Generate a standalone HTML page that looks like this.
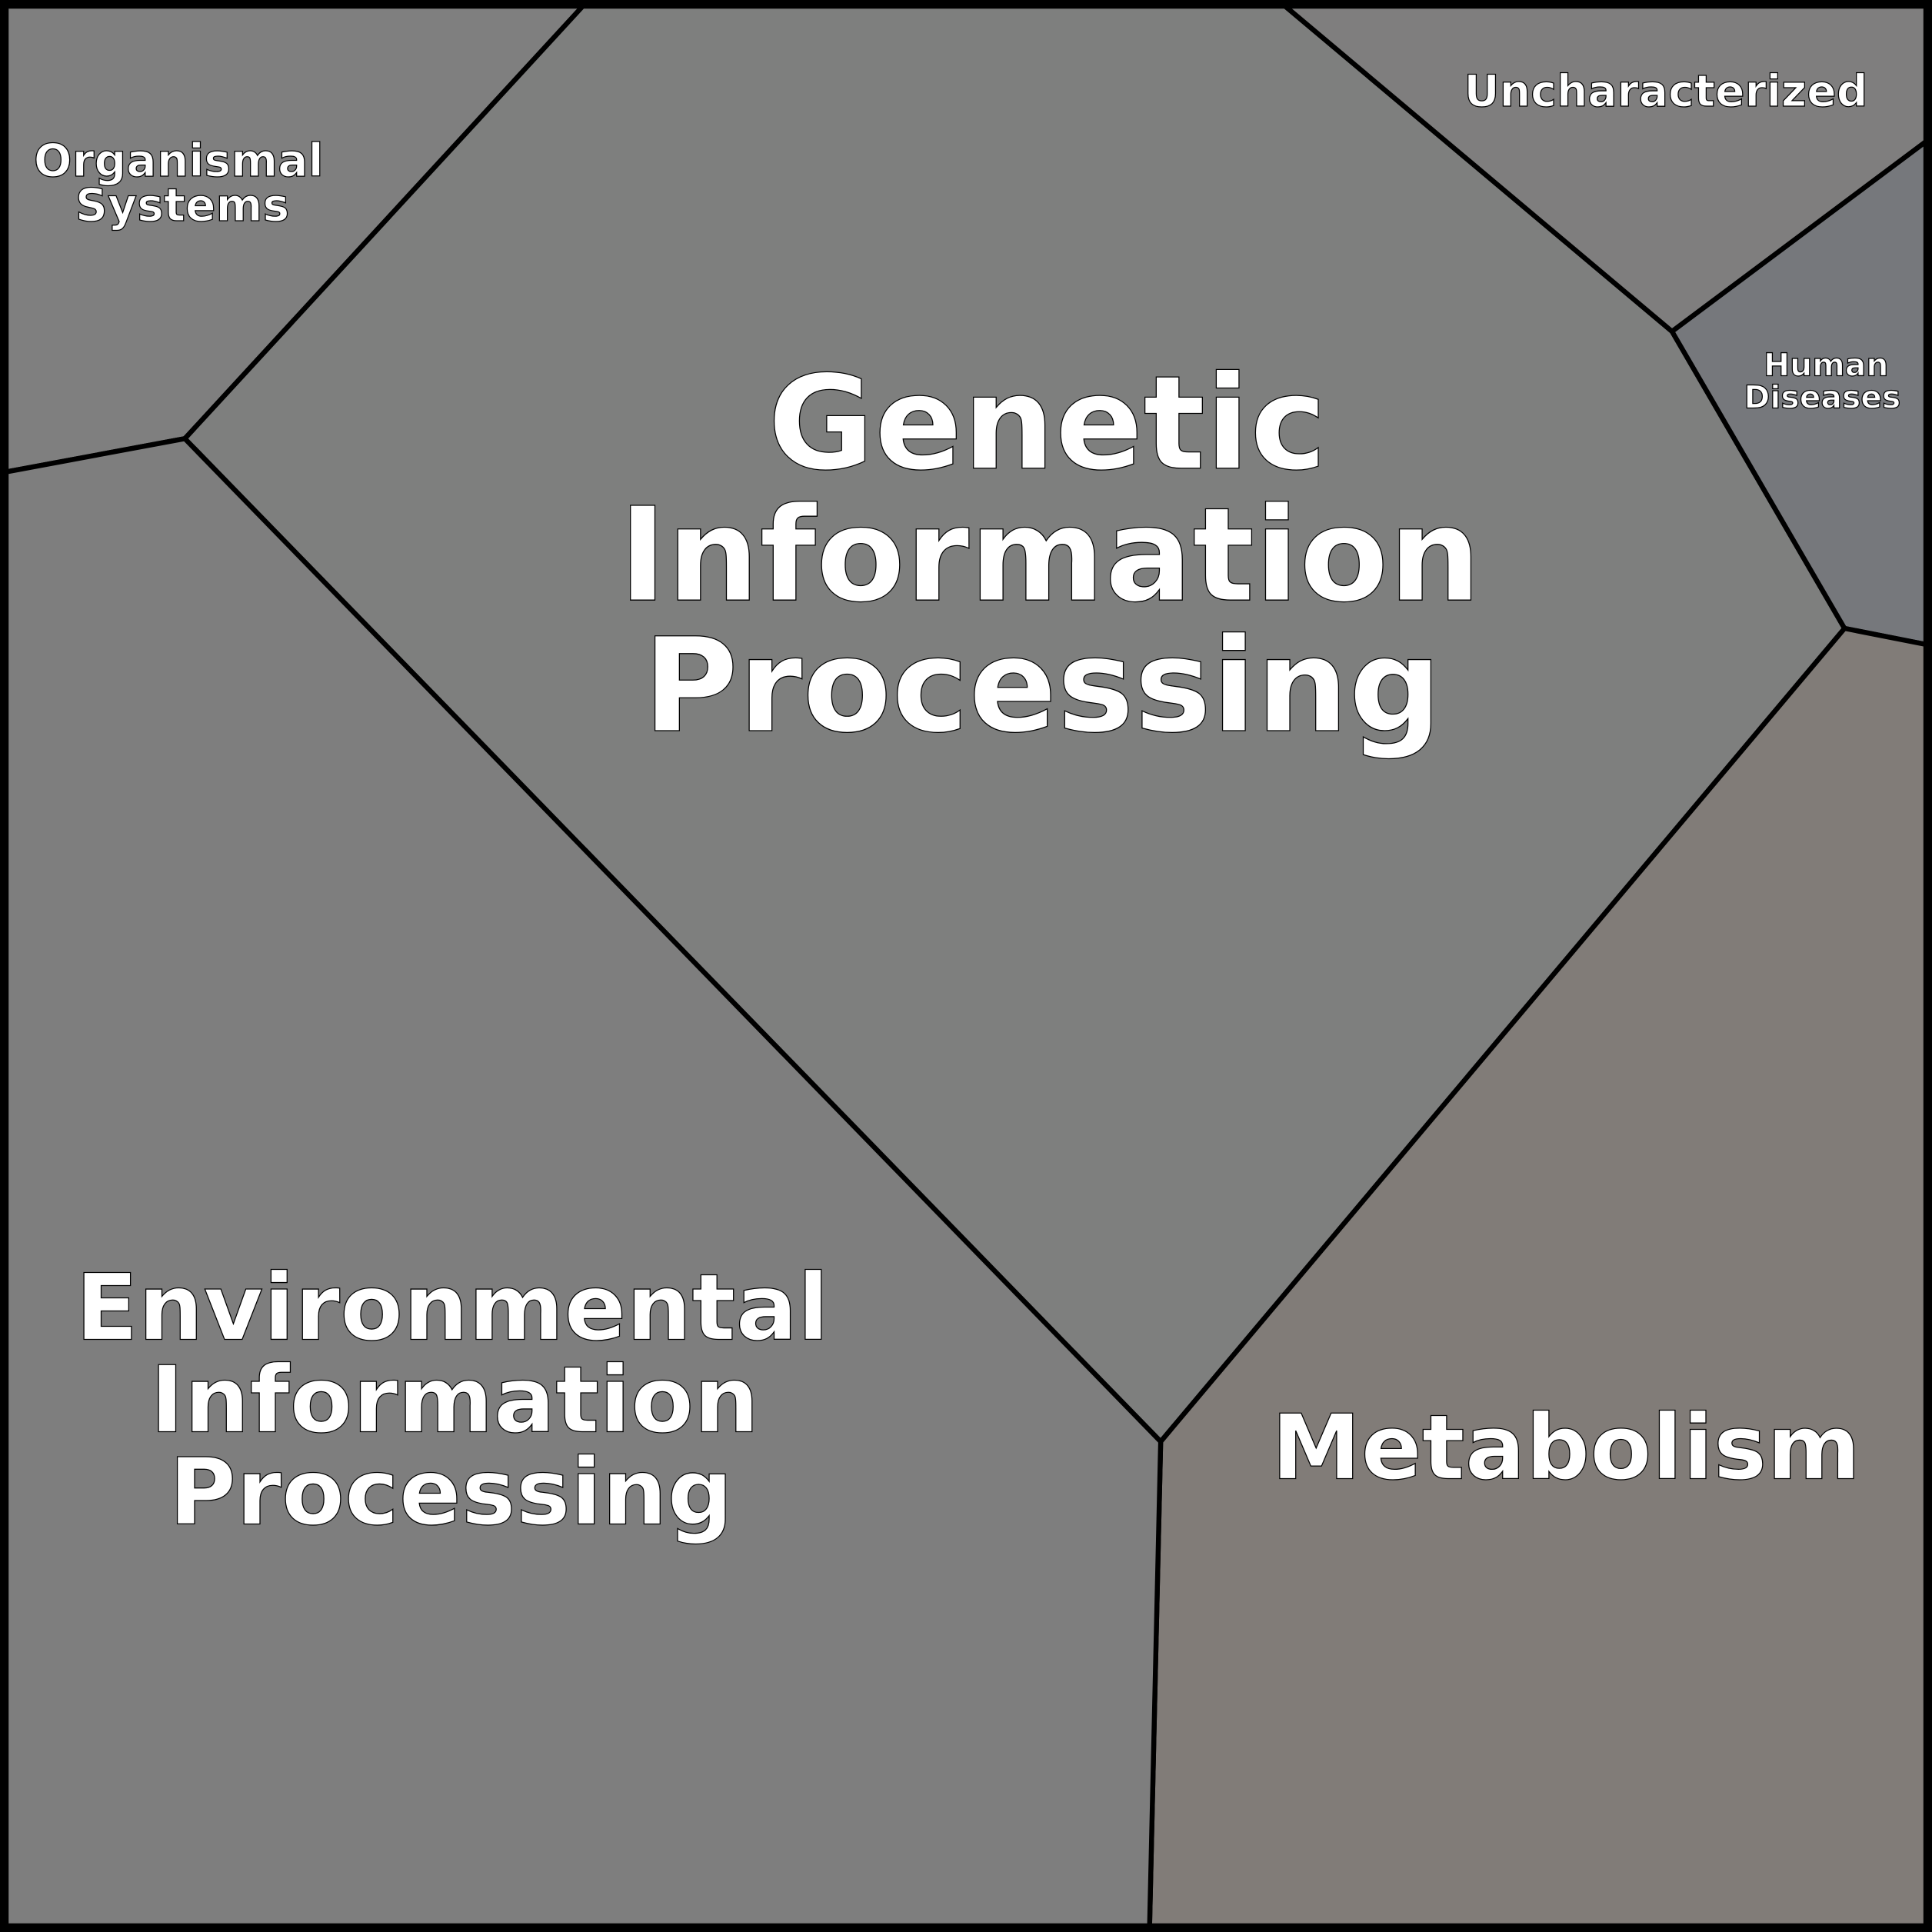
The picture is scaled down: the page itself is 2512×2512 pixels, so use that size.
<!DOCTYPE html>
<html><head><style>html,body{margin:0;padding:0;background:#fff}svg{display:block}</style></head>
<body>
<svg width="2512" height="2512" viewBox="0 0 1568 1568" xmlns="http://www.w3.org/2000/svg">
<g stroke="#000" stroke-width="4" stroke-linejoin="round">
<polygon points="5,5 473,5 150,356 5,383" fill="#7f7f7f"/>
<polygon points="473,5 1043,5 1357,269 1497,510 942,1170 150,356" fill="#7e7f7e"/>
<polygon points="1043,5 1563,5 1563,115 1357,269" fill="#7f7e7e"/>
<polygon points="1357,269 1563,115 1563,523 1497,510" fill="#76787c"/>
<polygon points="1497,510 1563,523 1563,1563 933,1563 942,1170" fill="#817c78"/>
<polygon points="5,383 150,356 942,1170 933,1563 5,1563" fill="#7e7e7e"/>
</g>
<rect x="3" y="3" width="1562" height="1562" fill="none" stroke="#000" stroke-width="6"/>
<g font-family="'DejaVu Sans','Liberation Sans',sans-serif" font-weight="bold" fill="#fff" stroke="#000" stroke-width="0.8" text-anchor="middle">
<g font-size="105.5"><text x="850" y="380">Genetic</text><text x="852" y="487">Information</text><text x="846" y="593">Processing</text></g>
<g font-size="74.5"><text x="367" y="1087">Environmental</text><text x="369" y="1162">Information</text><text x="366" y="1237">Processing</text></g>
<text x="1271" y="1200" font-size="73">Metabolism</text>
<g font-size="36.5"><text x="145" y="143">Organismal</text><text x="148" y="179">Systems</text></g>
<text x="1352" y="86" font-size="35.5">Uncharacterized</text>
<g font-size="25.5"><text x="1482" y="305">Human</text><text x="1479" y="331">Diseases</text></g>
</g>
</svg>
</body></html>
